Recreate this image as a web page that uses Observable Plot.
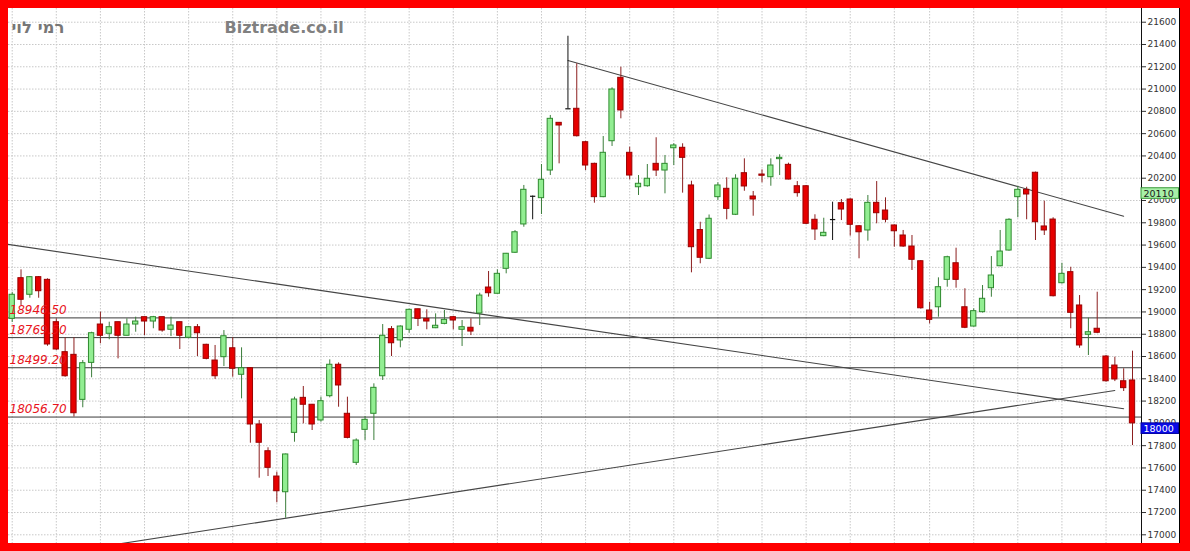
<!DOCTYPE html>
<html>
<head>
<meta charset="utf-8">
<script src="https://cdn.jsdelivr.net/npm/d3@7"></script>
<script src="https://cdn.jsdelivr.net/npm/@observablehq/plot@0.6"></script>
<style>
  html, body { margin: 0; padding: 0; background: #fff; }
  #chart { position: relative; width: 1190px; height: 551px; background: #ff0000; box-sizing: border-box; padding: 8px 0 0 8px; }
  #chart svg { display: block; border-right: 1px solid #000; }
</style>
</head>
<body>
<div id="chart"></div>
<script>
// Daily candles, oldest to newest (index = trading day)
const opens = [
  18938,19303,19154,19312,19288,18908,18639,18615,18211,18543,
  18887,18804,18908,18786,18887,18953,18914,18953,18840,18908,
  18768,18863,18705,18564,18594,18674,18436,18495,17990,17750,
  17523,17382,17915,18229,18167,18026,18244,18526,18086,17646,
  17942,18086,18423,18845,18744,18840,19024,18938,18854,18893,
  18953,18840,18858,18986,19219,19163,19387,19531,19785,20038,
  20021,20269,20697,20823,20823,20523,20329,20030,20532,21101,
  20428,20119,20128,20329,20269,20469,20473,20135,19735,19477,
  20030,20105,19872,20245,20036,20233,20209,20371,20320,20128,
  20128,19827,19680,19829,19976,20009,19769,19731,19979,19910,
  19776,19686,19587,19455,19013,19042,19288,19437,19042,18869,
  18998,19213,19410,19551,20030,20096,20249,19767,19829,19258,
  19357,19058,18795,18849,18600,18519,18378,18385
];
const highs = [
  19174,19378,19318,19318,19297,18938,18768,18768,18564,18818,
  18998,18908,18908,18938,18953,18953,18960,18953,18953,18908,
  18870,18887,18710,18699,18833,18768,18678,18500,18026,17781,
  17562,17725,18235,18331,18170,18235,18570,18543,18235,17861,
  18062,18355,18887,18869,18875,19025,19025,19019,18983,19013,
  18960,18923,18938,19168,19363,19378,19525,19730,20135,20040,
  20323,20763,20700,21474,21227,20530,20335,20574,21011,21196,
  20478,20224,20323,20563,20404,20509,20509,20173,19805,19870,
  20159,20204,20231,20374,20081,20275,20374,20410,20335,20170,
  20135,19872,19841,19985,20009,20015,19775,20045,20170,20024,
  19780,19731,19686,19460,19087,19306,19500,19572,19208,19028,
  19237,19497,19731,19836,20126,20119,20255,19994,19845,19437,
  19401,19147,18944,19177,18609,18594,18490,18648
];
const lows = [
  18905,19058,19123,19123,18692,18654,18414,18057,18140,18409,
  18714,18750,18579,18786,18818,18788,18849,18818,18779,18663,
  18760,18600,18570,18394,18510,18414,18220,17822,17508,17523,
  17287,17149,17831,17996,17936,18010,18229,18145,17861,17622,
  17846,17846,18385,18600,18678,18809,18869,18840,18850,18885,
  18840,18690,18788,18878,19132,19160,19342,19525,19760,19827,
  19874,20224,20329,20823,20570,20269,19976,20025,20485,20733,
  20186,20045,20120,20215,20060,20314,20066,19351,19432,19470,
  20000,19827,19865,20083,19859,20159,20128,20224,20185,20030,
  19785,19641,19675,19641,19820,19680,19477,19635,19791,19800,
  19581,19580,19372,19025,18893,18953,19222,19213,18850,18865,
  18990,19132,19405,19545,19845,19827,19641,19686,19135,19250,
  18849,18674,18609,18805,18370,18375,18286,17801
];
const closes = [
  19154,19109,19312,19186,18708,18663,18423,18091,18540,18809,
  18786,18863,18786,18887,18914,18914,18953,18833,18878,18786,
  18863,18809,18579,18423,18782,18490,18495,17990,17826,17601,
  17391,17721,18214,18167,17990,18199,18526,18340,17870,17846,
  18032,18319,18786,18719,18869,19019,18938,18914,18876,18929,
  18923,18863,18824,19147,19168,19342,19522,19715,20096,20038,
  20186,20733,20673,20823,20577,20314,20030,20428,20996,20808,
  20224,20150,20195,20269,20329,20494,20383,19581,19486,19836,
  20135,19925,20195,20126,20009,20222,20314,20383,20188,20066,
  19791,19740,19710,19829,19919,19782,19715,19979,19886,19827,
  19724,19587,19468,19033,18929,19222,19491,19288,18858,19007,
  19118,19327,19542,19827,20096,20054,19805,19731,19141,19342,
  18992,18699,18818,18813,18378,18394,18316,18000
];

// Horizontal support / resistance levels
const levels = [18946.50, 18769.50, 18499.20, 18056.70];

// Trend lines, each given by two (day index, price) anchors
const trendNames = ["upper", "falling", "rising"];
const trendDays = [[63, 126], [-1, 126], [12, 125]];
const trendPrices = [[21256, 19859], [19612, 18131], [16917, 18295]];

// Price axis ticks and vertical grid days (week starts)
const priceTicks = d3.range(17000, 21601, 200);
const gridDays = [0,5,10,15,20,25,30,35,40,45,50,55,60,65,70,75,80,85,90,95,100,104,109,114,119,124];

// Value tags on the price axis
const tagValues = [20110, 18000];
const tagFills = ["#a8f0a8", "#0a0ae8"];
const tagStrokes = ["#3a9a3a", "#0000a0"];
const tagText = ["#1a1a1a", "#ffffff"];

const titleText = "רמי לוי";
const siteText = "Biztrade.co.il";

const xDomain = [-0.42, 128.02];
const yDomain = [16922, 21723];

const candles = closes.map((c, i) => ({i, o: opens[i], h: highs[i], l: lows[i], c}));
const up = candles.filter(d => d.c > d.o);
const down = candles.filter(d => d.c < d.o);
const flat = candles.filter(d => d.c === d.o);

const trends = trendNames.flatMap((name, k) =>
  trendDays[k].map((day, j) => ({name, i: day, p: trendPrices[k][j]})));

const tags = tagValues.map((value, k) => ({value, fill: tagFills[k], stroke: tagStrokes[k], ink: tagText[k]}));

const halfBody = 0.3;

const chart = Plot.plot({
  width: 1171,
  height: 535,
  marginLeft: 0,
  marginRight: 38,
  marginTop: 0,
  marginBottom: 0,
  style: {background: "#fff", fontFamily: "DejaVu Sans, Verdana, sans-serif", overflow: "visible"},
  x: {domain: xDomain, axis: null},
  y: {domain: yDomain, axis: null},
  marks: [
    // dotted grid
    Plot.ruleY(priceTicks, {stroke: "#c8c8c8", strokeDasharray: "1.5,1.5"}),
    Plot.ruleX(gridDays, {stroke: "#c8c8c8", strokeDasharray: "1.5,1.5"}),

    // header texts
    Plot.text([titleText], {frameAnchor: "top-left", dx: 3, dy: 24, lineAnchor: "bottom", textAnchor: "start",
      text: d => d, fill: "#777", fontSize: 16.5, fontWeight: "bold"}),
    Plot.text([siteText], {frameAnchor: "top-left", dx: 216, dy: 24.5, lineAnchor: "bottom", textAnchor: "start",
      text: d => d, fill: "#808080", fontSize: 16, fontWeight: "bold"}),

    // level lines
    Plot.ruleY(levels, {stroke: "#3a3a3a", strokeWidth: 1}),

    // trend lines
    Plot.line(trends, {x: "i", y: "p", z: "name", stroke: "#454545", strokeWidth: 1.1, clip: true}),

    // wicks
    Plot.ruleX(up, {x: "i", y1: "l", y2: "h", stroke: "#3b7d3b"}),
    Plot.ruleX(down, {x: "i", y1: "l", y2: "h", stroke: "#8c1f1f"}),
    Plot.ruleX(flat, {x: "i", y1: "l", y2: "h", stroke: "#111"}),

    // bodies
    Plot.rect(up, {x1: d => d.i - halfBody, x2: d => d.i + halfBody, y1: "o", y2: "c",
      fill: "#92ee92", stroke: "#2e8a2e", strokeWidth: 1}),
    Plot.rect(down, {x1: d => d.i - halfBody, x2: d => d.i + halfBody, y1: "o", y2: "c",
      fill: "#e60000", stroke: "#9a0000", strokeWidth: 1}),
    Plot.link(flat, {x1: d => d.i - halfBody, x2: d => d.i + halfBody, y1: "o", y2: "c",
      stroke: "#111", strokeWidth: 1.2}),

    // level labels
    Plot.text(levels, {frameAnchor: "left", y: d => d, dx: 1, dy: -4, lineAnchor: "bottom", textAnchor: "start",
      text: d => d.toFixed(2), fill: "#e8141c", fontSize: 12, fontStyle: "italic"}),

    // price axis on the right
    Plot.ruleX([xDomain[1]], {stroke: "#111"}),
    Plot.axisY({anchor: "right", ticks: priceTicks, tickSize: 4, tickPadding: 2, fontSize: 9,
      tickFormat: d => String(d), label: null, color: "#333"}),

    // value tags
    Plot.rect(tags, {x1: () => xDomain[1], x2: () => xDomain[1] + 4.25, y1: "value", y2: d => d.value - 95,
      fill: "fill", stroke: "stroke", strokeWidth: 1}),
    Plot.text(tags, {x: () => xDomain[1], y: d => d.value - 47, dx: 2, textAnchor: "start",
      text: d => String(d.value), fill: "ink", fontSize: 9.5})
  ]
});

document.getElementById("chart").appendChild(chart);
</script>
</body>
</html>
